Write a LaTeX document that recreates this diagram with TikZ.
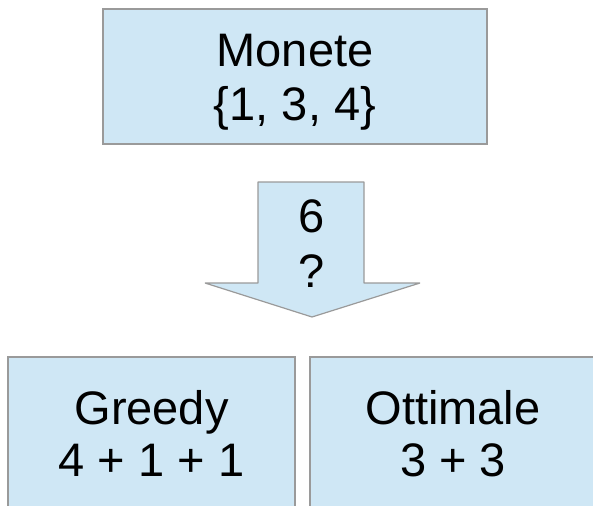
\documentclass[tikz,border=0pt]{standalone}
\usepackage{fontspec}
\setmainfont{Liberation Sans}
\definecolor{boxfill}{HTML}{CFE7F5}
\definecolor{boxline}{HTML}{9A9A9A}
\tikzset{
  shape box/.style={draw=boxline, fill=boxfill, line width=1.2pt},
  txt/.style={inner sep=0pt, anchor=base, font=\fontsize{47}{54}\selectfont},
}
\begin{document}
\begin{tikzpicture}[x=1pt,y=-1pt]
\useasboundingbox (0,0) rectangle (593,505);
\begin{scope}
\clip (0,0) rectangle (593,505);
% top box
\draw[shape box] (103,9) rectangle (487,144);
\node[txt] (t1) at (295,67) {Monete};
\node[txt] (t2) at (295,121) {\{1, 3, 4\}};
% arrow
\draw[shape box, line join=bevel] (258,182) -- (364,182) -- (364,283) -- (420,283) -- (312,317) -- (205,283) -- (258,283) -- cycle;
\node[txt] (a1) at (312,232) {6};
\node[txt] (a2) at (312,287) {?};
% bottom boxes
\draw[shape box] (8,357) rectangle (295,520);
\draw[shape box] (310,357) rectangle (600,520);
\node[txt] (g1) at (151.5,424) {Greedy};
\node[txt] (g2) at (151.5,476) {4 + 1 + 1};
\node[txt] (o1) at (453,424) {Ottimale};
\node[txt] (o2) at (453,476) {3 + 3};
\end{scope}
\end{tikzpicture}
\end{document}
